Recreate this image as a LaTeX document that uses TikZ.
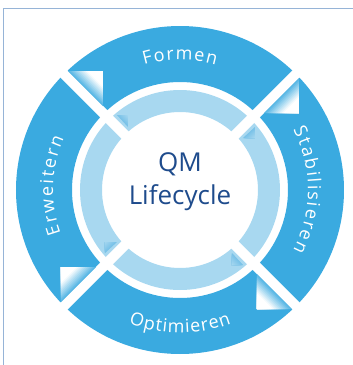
\documentclass[tikz,border=0pt]{standalone}
\usepackage{fontspec}
\setmainfont{Open Sans}
\usepackage{xcolor}
\usepackage{tikz}
\usetikzlibrary{calc}
\usetikzlibrary{decorations.text}
\definecolor{ringblue}{RGB}{58,170,224}
\definecolor{lightring}{RGB}{168,216,240}
\definecolor{arrowblue}{RGB}{120,194,232}
\definecolor{titleblue}{RGB}{30,75,140}
\definecolor{framecol}{RGB}{150,180,215}
\newcommand{\ringfont}{\fontsize{18}{18}\selectfont}
\tikzstyle{ringlabel} = [decorate, decoration={text along path,
text align={fit to path}, text color=white}]
\tikzstyle{gap} = [white, line width=10pt]
\tikzstyle{title} = [text=titleblue, align=center,
font=\fontsize{26}{33}\selectfont]

\begin{document}
\begin{tikzpicture}[x=1pt, y=1pt]
        \useasboundingbox (-180,-175) rectangle (173,190);
        \draw[framecol, line width=1pt] (-176,-175) -- (-176,182) -- (173,182);
        % rings
        \fill[ringblue, even odd rule] (0,0) circle[radius=164] (0,0) circle[radius=108];
        \fill[lightring, even odd rule] (0,0) circle[radius=100] (0,0) circle[radius=78];
        \draw[gap] (135:172) -- (-45:172);
        \draw[gap] (45:172) -- (-135:172);
        % arrow tips
        \foreach \k in {0,1,2,3}{
            \begin{scope}[rotate=-90*\k]
                \foreach \t in {1,0.95,...,0.04}{
                    \pgfmathsetmacro\w{min(100,15+(1-\t)*160)}
                    \fill[white!\w!ringblue] ($(-77,119)!\t!(-112,119)$) -- (-77,119)
                        -- ($(-77,119)!\t!(-77,84)$) -- cycle;
                    \pgfmathsetmacro\v{100*(1-\t)}
                    \fill[lightring!\v!arrowblue] ($(-52,75)!\t!(-63,75)$) -- (-52,75)
                        -- ($(-52,75)!\t!(-52,63)$) -- cycle;
                }
            \end{scope}
        }
        % labels
        \path[ringlabel, decoration={text={|\ringfont|Formen}}]
            (106:130) arc[start angle=106, end angle=74, radius=130];
        \path[ringlabel, decoration={text={|\ringfont|Stabilisieren}}]
            (28:128) arc[start angle=28, end angle=-28, radius=128];
        \path[ringlabel, decoration={text={|\ringfont|Optimieren}}]
            (249:143) arc[start angle=249, end angle=291, radius=143];
        \path[ringlabel, decoration={text={|\ringfont|Erweitern}}]
            (200:127) arc[start angle=200, end angle=156, radius=127];
        \node[title] (lifecycle) at (0,8) {QM\\Lifecycle};
\end{tikzpicture}
\end{document}
